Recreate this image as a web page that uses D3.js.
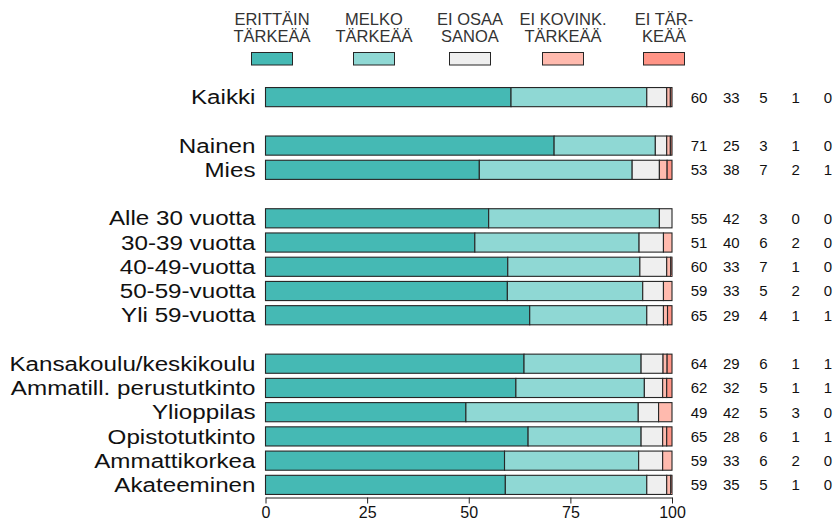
<!DOCTYPE html>
<html>
<head>
<meta charset="utf-8">
<script src="https://cdn.jsdelivr.net/npm/d3@7"></script>
<style>
  body { margin: 0; background: #fff; }
  svg { display: block; font-family: "Liberation Sans", Arial, sans-serif; }
</style>
</head>
<body>
<svg width="836" height="521"></svg>
<script>
// rivit (ryhmien väliin jää tyhjä rivi)
const categories = ['Kaikki', 'Nainen', 'Mies', 'Alle 30 vuotta', '30-39 vuotta', '40-49-vuotta',
  '50-59-vuotta', 'Yli 59-vuotta', 'Kansakoulu/keskikoulu', 'Ammatill. perustutkinto',
  'Ylioppilas', 'Opistotutkinto', 'Ammattikorkea', 'Akateeminen']
const groupSizes = [1, 2, 5, 6]

// vastausvaihtoehdot
const seriesNames = [['ERITTÄIN', 'TÄRKEÄÄ'], ['MELKO', 'TÄRKEÄÄ'], ['EI OSAA', 'SANOA'],
  ['EI KOVINK.', 'TÄRKEÄÄ'], ['EI TÄR-', 'KEÄÄ']]
const colors = ['#45b9b4', '#8fd8d4', '#efefef', '#ffbaae', '#ff9486']

// palkkien osuudet (%)
const erittain = [60.4, 71.0, 52.6, 54.9, 51.5, 59.6, 59.5, 65.0, 63.6, 61.6, 49.3, 64.6, 58.8, 59.0]
const melko = [33.4, 24.9, 37.6, 42.0, 40.4, 32.5, 33.3, 28.8, 28.8, 31.6, 42.4, 27.8, 33.0, 34.8]
const eiOsaa = [4.9, 2.8, 6.7, 3.1, 6.0, 6.6, 5.1, 4.1, 5.4, 4.5, 5.0, 5.3, 5.9, 4.9]
const eiKovin = [0.9, 0.9, 1.9, 0, 2.1, 1.0, 2.1, 1.0, 1.0, 1.0, 3.3, 1.0, 2.3, 1.0]
const eiTark = [0.4, 0.4, 1.2, 0, 0, 0.3, 0, 1.1, 1.2, 1.3, 0, 1.3, 0, 0.3]

// oikean reunan luvut
const numErittain = [60, 71, 53, 55, 51, 60, 59, 65, 64, 62, 49, 65, 59, 59]
const numMelko = [33, 25, 38, 42, 40, 33, 33, 29, 29, 32, 42, 28, 33, 35]
const numEiOsaa = [5, 3, 7, 3, 6, 7, 5, 4, 6, 5, 5, 6, 6, 5]
const numEiKovin = [1, 1, 2, 0, 2, 1, 2, 1, 1, 1, 3, 1, 2, 1]
const numEiTark = [0, 0, 1, 0, 0, 0, 0, 1, 1, 1, 0, 1, 0, 0]

const xTicks = [0, 25, 50, 75, 100]

const svg = d3.select('svg')
const series = [erittain, melko, eiOsaa, eiKovin, eiTark]
const nums = [numErittain, numMelko, numEiOsaa, numEiKovin, numEiTark]

// rivipaikat: tyhjä väli ryhmien välissä
const slots = []
let k = 0
groupSizes.forEach((n, g) => {
  if (g > 0) slots.push(null)
  for (let i = 0; i < n; i++) slots.push(k++)
})
const slotOf = categories.map((c, i) => slots.indexOf(i))

const x = d3.scaleLinear().domain([0, 100]).range([265.5, 672])
const y = d3.scaleBand()
  .domain(d3.range(slots.length))
  .range([85, 497])
  .paddingInner(0.21)
  .paddingOuter(0.105)

// pinotut palkit
const stack = categories.map((c, i) => {
  let acc = 0
  return series.map((s, j) => {
    const seg = { row: i, key: j, x0: acc, x1: acc + s[i] }
    acc += s[i]
    return seg
  })
}).flat()

svg.append('g')
  .selectAll('rect')
  .data(stack.filter(d => d.x1 > d.x0))
  .enter()
  .append('rect')
  .attr('x', d => x(d.x0))
  .attr('y', d => y(slotOf[d.row]))
  .attr('width', d => x(d.x1) - x(d.x0))
  .attr('height', y.bandwidth())
  .attr('fill', d => colors[d.key])
  .attr('stroke', '#262626')
  .attr('stroke-width', 1.1)

// rivien nimet (fontti on alkuperäisessä leveämpi, siksi scaleX)
svg.append('g')
  .attr('transform', `translate(${x(0) - 10},0) scale(1.21,1)`)
  .selectAll('text')
  .data(categories)
  .enter()
  .append('text')
  .attr('x', 0)
  .attr('y', (d, i) => y(slotOf[i]) + y.bandwidth() / 2)
  .attr('dy', '0.36em')
  .attr('text-anchor', 'end')
  .attr('font-size', 20)
  .attr('fill', '#111')
  .text(d => d)

// luvut oikealla
const colX = d3.scalePoint().domain(d3.range(5)).range([699, 828])
const numG = svg.append('g')
nums.forEach((arr, j) => {
  numG.selectAll('text.c' + j)
    .data(arr)
    .enter()
    .append('text')
    .attr('class', 'c' + j)
    .attr('x', colX(j))
    .attr('y', (d, i) => y(slotOf[i]) + y.bandwidth() / 2)
    .attr('dy', '0.36em')
    .attr('text-anchor', 'middle')
    .attr('font-size', 15)
    .attr('fill', '#111')
    .text(d => d)
})

// selite
const legendX = [272, 374, 470, 563, 664]
const legend = svg.append('g')
  .selectAll('g')
  .data(seriesNames)
  .enter()
  .append('g')
  .attr('transform', (d, i) => `translate(${legendX[i]},0)`)

legend.append('text')
  .attr('text-anchor', 'middle')
  .attr('font-size', 16.5)
  .attr('fill', '#333')
  .selectAll('tspan')
  .data(d => d)
  .enter()
  .append('tspan')
  .attr('x', 0)
  .attr('y', (d, i) => 25 + i * 17)
  .text(d => d)

legend.append('rect')
  .attr('x', -20.5)
  .attr('y', 52.5)
  .attr('width', 41)
  .attr('height', 12.5)
  .attr('fill', (d, i) => colors[i])
  .attr('stroke', '#262626')

// x-akseli
const xAxis = d3.axisBottom(x).tickValues(xTicks).tickSize(6).tickSizeOuter(0)
const ax = svg.append('g')
  .attr('transform', 'translate(0,497.5)')
  .call(xAxis)
ax.select('.domain').attr('stroke', '#222')
ax.selectAll('.tick line').attr('stroke', '#222')
ax.selectAll('.tick text')
  .attr('font-family', '"Liberation Sans", Arial, sans-serif')
  .attr('font-size', 16)
  .attr('fill', '#111')
  .attr('y', 9)
</script>
</body>
</html>
